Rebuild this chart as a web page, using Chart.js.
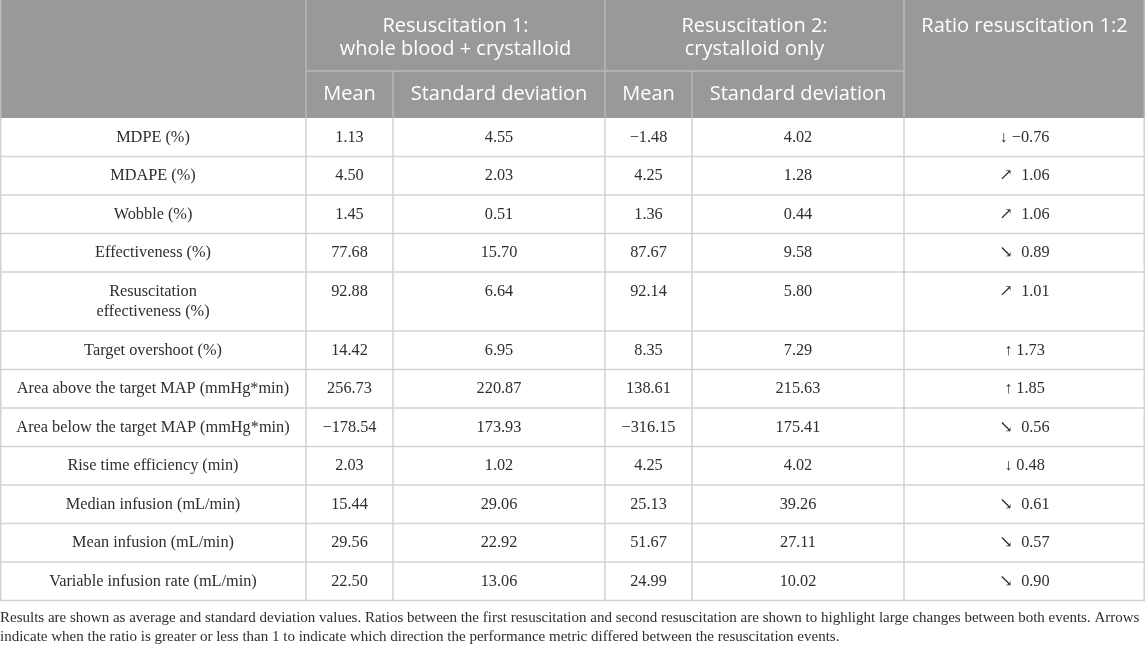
<!DOCTYPE html>
<html>
<head>
<meta charset="utf-8">
<script src="https://cdn.jsdelivr.net/npm/chart.js@4"></script>
<style>
  html, body { margin: 0; padding: 0; background: #fff; }
  #wrap { width: 1145px; height: 646px; }
</style>
</head>
<body>
<div id="wrap"><canvas id="tbl" width="1145" height="646"></canvas></div>
<script>
// --- table data ---
const metrics = [
    'MDPE (%)', 'MDAPE (%)', 'Wobble (%)', 'Effectiveness (%)',
    'Resuscitation\neffectiveness (%)', 'Target overshoot (%)',
    'Area above the target MAP (mmHg*min)', 'Area below the target MAP (mmHg*min)',
    'Rise time efficiency (min)', 'Median infusion (mL/min)',
    'Mean infusion (mL/min)', 'Variable infusion rate (mL/min)'
];
const mean1 = [1.13, 4.50, 1.45, 77.68, 92.88, 14.42, 256.73, -178.54, 2.03, 15.44, 29.56, 22.50];
const sd1 = [4.55, 2.03, 0.51, 15.70, 6.64, 6.95, 220.87, 173.93, 1.02, 29.06, 22.92, 13.06];
const mean2 = [-1.48, 4.25, 1.36, 87.67, 92.14, 8.35, 138.61, -316.15, 4.25, 25.13, 51.67, 24.99];
const sd2 = [4.02, 1.28, 0.44, 9.58, 5.80, 7.29, 215.63, 175.41, 4.02, 39.26, 27.11, 10.02];
const ratio = [-0.76, 1.06, 1.06, 0.89, 1.01, 1.73, 1.85, 0.56, 0.48, 0.61, 0.57, 0.90];
const arrows = ['↓', '↗', '↗', '↘', '↗', '↑', '↑', '↘', '↓', '↘', '↘', '↘'];

const groupHeaders = ['Resuscitation 1:\nwhole blood + crystalloid', 'Resuscitation 2:\ncrystalloid only', 'Ratio resuscitation 1:2'];
const subHeaders = ['Mean', 'Standard deviation', 'Mean', 'Standard deviation'];
const footnote = [
    'Results are shown as average and standard deviation values. Ratios between the first resuscitation and second resuscitation are shown to highlight large changes between both events. Arrows',
    'indicate when the ratio is greater or less than 1 to indicate which direction the performance metric differed between the resuscitation events.'
];

// --- layout (table units) ---
const colEdges = [0, 306, 393, 605, 692, 904, 1145];
const headRows = [71, 47];
const rowH = 38.5, extraLine = 20.5;

const rowEdges = [0, headRows[0], headRows[0] + headRows[1]];
metrics.forEach(m => {
    const lines = m.split('\n').length;
    rowEdges.push(rowEdges[rowEdges.length - 1] + rowH + (lines - 1) * extraLine);
});

const fmt = v => v.toFixed(2).replace('-', '\u2212');

const HEAD_BG = '#999999';
const HEAD_LINE = '#b9b9b9';
const BODY_LINE = '#d2d2d2';
const TEXT = '#2e2e2e';
const SANS = '"Open Sans", "Noto Sans", sans-serif';
const SERIF = '"Liberation Serif", "DejaVu Serif", serif';

const tablePlugin = {
    id: 'tableCells',
    afterDraw(chart) {
        const { ctx, scales: { x, y } } = chart;
        const px = v => x.getPixelForValue(v);
        const py = v => y.getPixelForValue(v);
        const cx = (a, b) => (px(colEdges[a]) + px(colEdges[b])) / 2;
        const last = colEdges.length - 1;
        const hb = rowEdges[2];

        ctx.save();
        // header background
        ctx.fillStyle = HEAD_BG;
        ctx.fillRect(px(0), py(0), px(colEdges[last]) - px(0), py(hb) - py(0));

        const line = (x1, y1, x2, y2, color, w) => {
            ctx.strokeStyle = color;
            ctx.lineWidth = w || 1.5;
            ctx.beginPath();
            ctx.moveTo(x1, y1);
            ctx.lineTo(x2, y2);
            ctx.stroke();
        };

        // header lines
        [1, 3, 5].forEach(i => line(px(colEdges[i]), py(0), px(colEdges[i]), py(hb), HEAD_LINE));
        [2, 4].forEach(i => line(px(colEdges[i]), py(rowEdges[1]), px(colEdges[i]), py(hb), HEAD_LINE));
        line(px(colEdges[1]), py(rowEdges[1]), px(colEdges[5]), py(rowEdges[1]), HEAD_LINE);
        line(px(0) + 0.75, py(0), px(0) + 0.75, py(hb), HEAD_LINE);
        line(px(colEdges[last]) - 0.75, py(0), px(colEdges[last]) - 0.75, py(hb), HEAD_LINE);

        // body lines
        const bodyEnd = rowEdges[rowEdges.length - 1];
        for (let r = 3; r < rowEdges.length; r++) {
            line(px(0), py(rowEdges[r]), px(colEdges[last]), py(rowEdges[r]), BODY_LINE);
        }
        colEdges.forEach((c, i) => {
            const xx = i === 0 ? px(c) + 0.75 : (i === last ? px(c) - 0.75 : px(c));
            line(xx, py(hb), xx, py(bodyEnd), BODY_LINE);
        });

        // header text
        ctx.fillStyle = '#ffffff';
        ctx.font = '20px ' + SANS;
        ctx.textAlign = 'center';
        ctx.textBaseline = 'middle';
        const groupCols = [[1, 3], [3, 5], [5, 6]];
        groupHeaders.forEach((g, i) => {
            g.split('\n').forEach((t, k) => {
                ctx.fillText(t, cx(groupCols[i][0], groupCols[i][1]), py(26.5 + k * 23));
            });
        });
        subHeaders.forEach((s, i) => {
            ctx.fillText(s, cx(i + 1, i + 2), py((rowEdges[1] + rowEdges[2]) / 2));
        });

        // body text
        ctx.fillStyle = TEXT;
        ctx.font = '16.3px ' + SERIF;
        metrics.forEach((m, r) => {
            const top = rowEdges[r + 2];
            const yMid = py(top + 19.5);
            m.split('\n').forEach((t, k) => ctx.fillText(t, cx(0, 1), py(top + 19.5 + k * 20.5)));
            ctx.fillText(fmt(mean1[r]), cx(1, 2), yMid);
            ctx.fillText(fmt(sd1[r]), cx(2, 3), yMid);
            ctx.fillText(fmt(mean2[r]), cx(3, 4), yMid);
            ctx.fillText(fmt(sd2[r]), cx(4, 5), yMid);
            const arrowGap = (arrows[r] === '↗' || arrows[r] === '↘') ? '  ' : ' ';
            ctx.fillText(arrows[r] + arrowGap + fmt(ratio[r]), cx(5, 6), yMid);
        });
        ctx.restore();
    }
};

new Chart(document.getElementById('tbl'), {
    type: 'scatter',
    data: { datasets: [] },
    options: {
        responsive: false,
        animation: false,
        layout: { padding: 0 },
        plugins: {
            legend: { display: false },
            tooltip: { enabled: false },
            title: {
                display: true,
                position: 'bottom',
                align: 'start',
                text: footnote,
                color: TEXT,
                font: { family: SERIF, size: 15, weight: 'normal', lineHeight: 1.25 },
                padding: { top: 8, bottom: 0 }
            }
        },
        scales: {
            x: { type: 'linear', display: false, min: 0, max: colEdges[colEdges.length - 1] },
            y: { type: 'linear', display: false, reverse: true, min: 0, max: rowEdges[rowEdges.length - 1] }
        }
    },
    plugins: [tablePlugin]
});
</script>
</body>
</html>
